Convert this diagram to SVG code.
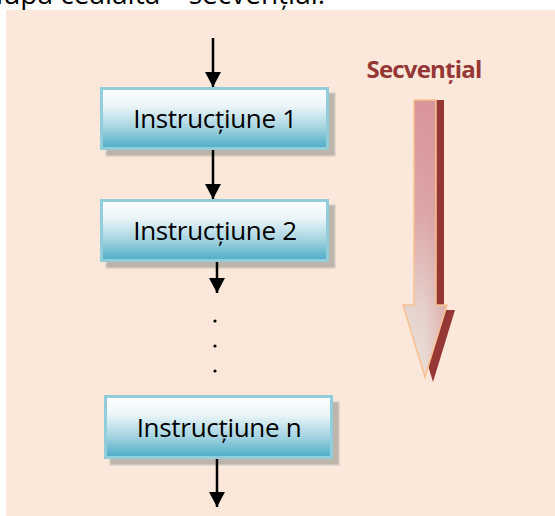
<svg xmlns="http://www.w3.org/2000/svg" width="555" height="516" viewBox="0 0 555 516">
  <defs>
    <linearGradient id="boxFill" x1="0" y1="0" x2="0" y2="1">
      <stop offset="0" stop-color="#FFFFFF"/>
      <stop offset="0.3" stop-color="#EAF5F8"/>
      <stop offset="0.65" stop-color="#A6D4E1"/>
      <stop offset="1" stop-color="#4BACC6"/>
    </linearGradient>
    <linearGradient id="arrowV" x1="0" y1="0" x2="0" y2="1">
      <stop offset="0" stop-color="#D8959A"/>
      <stop offset="0.4" stop-color="#DCA7A8"/>
      <stop offset="0.75" stop-color="#E6D6D0"/>
      <stop offset="1" stop-color="#ECE5DD"/>
    </linearGradient>
    <linearGradient id="arrowH" x1="0" y1="0" x2="1" y2="0">
      <stop offset="0" stop-color="#D99694" stop-opacity="0"/>
      <stop offset="0.5" stop-color="#D99694" stop-opacity="0.1"/>
      <stop offset="1" stop-color="#D99694" stop-opacity="0.6"/>
    </linearGradient>
    <marker id="ah2" viewBox="0 0 15 16" refX="15" refY="8" markerWidth="15" markerHeight="16" markerUnits="userSpaceOnUse" orient="auto">
      <path d="M0,0 L15,8 L0,16 Z" fill="#000"/>
    </marker>
  </defs>
  <style>
    .bg { fill: #FCE8DB; }
    .shadow { fill: #BDB4AA; stroke: #D6CFC8; stroke-width: 1.5; }
    .box { fill: url(#boxFill); stroke: #92CDDC; stroke-width: 3; }
    .lbl { font-family: "Open Sans", "Noto Sans", sans-serif; font-size: 26px; letter-spacing: -0.3px; fill: #000; text-anchor: middle; }
    .conn { stroke: #000; stroke-width: 2.5; fill: none; marker-end: url(#ah2); }
    .title { font-family: "Open Sans", "Noto Sans", sans-serif; font-size: 28px; fill: #000; }
    .seq { font-family: "Open Sans", "Noto Sans", sans-serif; font-size: 24px; letter-spacing: -0.8px; font-weight: bold; fill: #953735; text-anchor: middle; }
    .dot { fill: #000; }
  </style>

  <text class="title" x="-14" y="4">după cealaltă – secvențial.</text>

  <rect class="bg" x="6" y="10" width="549" height="506"/>

  <g id="node1">
    <rect class="shadow" x="106" y="93" width="229" height="63"/>
    <rect class="box" x="101.5" y="88.5" width="226" height="60"/>
    <text class="lbl" x="215" y="128">Instrucțiune 1</text>
  </g>

  <g id="node2">
    <rect class="shadow" x="106" y="205" width="229" height="63"/>
    <rect class="box" x="101.5" y="200.5" width="226" height="60"/>
    <text class="lbl" x="215" y="240">Instrucțiune 2</text>
  </g>

  <g id="noden">
    <rect class="shadow" x="110" y="402" width="229" height="63"/>
    <rect class="box" x="105.5" y="396.5" width="226" height="61"/>
    <text class="lbl" x="219" y="437">Instrucțiune n</text>
  </g>

  <g id="connectors">
    <line class="conn" x1="213" y1="38" x2="213" y2="87"/>
    <line class="conn" x1="213" y1="150" x2="213" y2="199"/>
    <line class="conn" x1="217" y1="262" x2="217" y2="293"/>
    <line class="conn" x1="217" y1="459" x2="217" y2="507"/>
  </g>

  <g id="dots">
    <circle class="dot" cx="215" cy="321" r="1.6"/>
    <circle class="dot" cx="215" cy="346" r="1.6"/>
    <circle class="dot" cx="215" cy="371" r="1.6"/>
  </g>

  <g id="sequential">
    <text class="seq" x="424" y="78">Secvențial</text>
    <polygon points="422,100 444,100 444,310 455,310 433,382 411,310 422,310" fill="#953735"/>
    <polygon points="414,100 436,100 436,305 447,305 425,377 403,305 414,305" fill="url(#arrowV)"/>
    <polygon points="414,100 436,100 436,305 447,305 425,377 403,305 414,305" fill="url(#arrowH)" stroke="#FAC090" stroke-width="1.5" stroke-linejoin="miter"/>
  </g>
</svg>
